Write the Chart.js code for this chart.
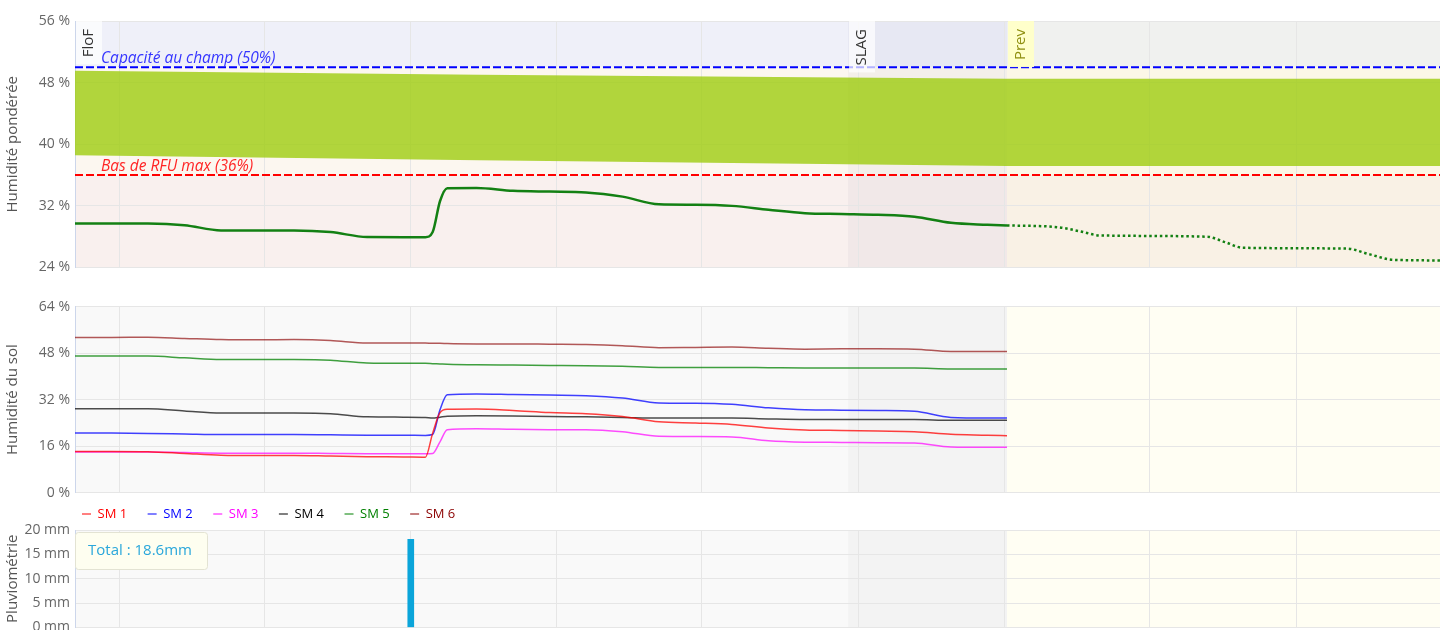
<!DOCTYPE html>
<html>
<head>
<meta charset="utf-8">
<script src="https://cdn.jsdelivr.net/npm/chart.js@4.4.1/dist/chart.umd.min.js"></script>
<style>
  html, body { margin: 0; padding: 0; background: #fff; }
  #wrap { position: relative; width: 1440px; height: 630px; overflow: hidden; }
  #wrap canvas { position: absolute; left: 0; }
</style>
</head>
<body>
<div id="wrap">
  <canvas id="hpChart" width="1440" height="280" style="top:0"></canvas>
  <canvas id="smChart" width="1440" height="260" style="top:280px"></canvas>
  <canvas id="rainChart" width="1440" height="130" style="top:500px"></canvas>
</div>
<script>
// x values are in days from the left edge of the plots
var gridDays = [0.308, 1.301, 2.299, 3.295, 4.29, 5.37, 6.37, 7.363, 8.368];
var xMax = 9.35;
var periodNames = ['FloF', 'SLAG', 'Prev'];
var periodStarts = [0, 5.295, 6.384];

var thresholds = [50, 36];
var thresholdLabels = ['Capacité au champ (50%)', 'Bas de RFU max (36%)'];

// RFU band (green area)
var bandDays = [0, 2.77, 6.384, 9.5];
var bandTop = [49.53, 49.01, 48.49, 48.49];
var bandBottom = [38.57, 37.92, 37.18, 37.18];

// weighted humidity, measured then forecast
var obsDays = [0, 0.25, 0.5, 0.75, 1, 1.25, 1.5, 1.75, 2, 2.25, 2.4, 2.45, 2.5, 2.55, 2.75,
  3, 3.25, 3.5, 3.75, 4, 4.25, 4.5, 4.75, 5, 5.25, 5.5, 5.75, 6, 6.25, 6.384];
var hpObs = [29.72, 29.72, 29.72, 29.5, 28.81, 28.81, 28.81, 28.6, 27.96, 27.94, 27.94, 28.6, 32.6, 34.3, 34.32,
  33.95, 33.85, 33.75, 33.2, 32.2, 32.15, 32.0, 31.5, 31.05, 30.95, 30.85, 30.6, 29.8, 29.55, 29.46];
var fcDays = [6.384, 6.726, 6.884, 7.021, 7.753, 7.877, 8.0, 8.712, 8.87, 9.027, 9.349, 9.5];
var hpFc = [29.46, 29.24, 28.7, 28.16, 28.0, 27.3, 26.56, 26.45, 25.7, 25.0, 24.92, 24.9];

// soil moisture probes
var smLabels = ['SM 1', 'SM 2', 'SM 3', 'SM 4', 'SM 5', 'SM 6'];
var sm1 = [14.2, 14.2, 14.1, 13.5, 12.9, 12.8, 12.8, 12.6, 12.4, 12.3, 12.2, 20.5, 27.5, 28.7, 28.8,
  28.3, 27.6, 27.2, 26.2, 24.4, 24.0, 23.5, 22.3, 21.6, 21.4, 21.2, 21.0, 20.1, 19.8, 19.6];
var sm2 = [20.5, 20.5, 20.4, 20.2, 20.0, 20.0, 20.0, 19.9, 19.8, 19.8, 19.7, 20.0, 28.5, 33.7, 34.0,
  33.8, 33.6, 33.4, 32.6, 30.9, 30.8, 30.4, 29.2, 28.5, 28.4, 28.3, 28.0, 25.9, 25.7, 25.7];
var sm3 = [14.0, 14.0, 14.0, 13.8, 13.6, 13.6, 13.6, 13.5, 13.4, 13.4, 13.4, 13.5, 17.5, 21.7, 22.0,
  21.8, 21.7, 21.7, 21.0, 19.4, 19.3, 19.2, 17.9, 17.4, 17.3, 17.2, 17.1, 15.7, 15.6, 15.6];
var sm4 = [28.9, 28.9, 28.9, 28.1, 27.4, 27.4, 27.4, 27.2, 26.1, 26.0, 25.9, 25.7, 26.0, 26.3, 26.5,
  26.4, 26.2, 26.1, 25.9, 25.7, 25.7, 25.7, 25.4, 25.2, 25.2, 25.2, 25.2, 24.9, 24.9, 24.9];
var sm5 = [47.0, 47.0, 47.0, 46.4, 45.8, 45.8, 45.8, 45.6, 44.6, 44.5, 44.5, 44.4, 44.3, 44.2, 44.0,
  43.9, 43.8, 43.7, 43.5, 43.1, 43.1, 43.1, 43.0, 42.9, 42.9, 42.9, 42.9, 42.6, 42.6, 42.6];
var sm6 = [53.4, 53.4, 53.5, 53.1, 52.7, 52.6, 52.7, 52.4, 51.5, 51.5, 51.5, 51.4, 51.4, 51.3, 51.2,
  51.2, 51.1, 51.0, 50.6, 49.9, 50.0, 50.1, 49.7, 49.4, 49.5, 49.5, 49.4, 48.6, 48.6, 48.6];

// rain
var rainDays = [2.3];
var rainMm = [18.1];
var rainTotalMm = 18.6;

var smColors = ['#ff0000', '#0000ff', '#ff00ff', '#000000', '#008000', '#8b0000'];
var smLineColors = ['rgba(255,0,0,0.75)', 'rgba(0,0,255,0.75)', 'rgba(255,0,255,0.7)',
  'rgba(0,0,0,0.7)', 'rgba(0,128,0,0.75)', 'rgba(139,0,0,0.65)'];

Chart.defaults.font.family = '"Open Sans", sans-serif';
Chart.defaults.color = '#666';

function pts(xs, ys) {
  return xs.map(function (x, i) { return { x: x, y: ys[i] }; });
}

function xScale() {
  return {
    type: 'linear', min: 0, max: xMax, offset: false,
    afterBuildTicks: function (s) {
      s.ticks = gridDays.map(function (v) { return { value: v }; });
    },
    afterFit: function (s) { s.height = 0; s.paddingLeft = 0; s.paddingRight = 0; },
    ticks: { display: false },
    grid: { color: '#e6e6e6', drawTicks: false, offset: false },
    border: { display: false }
  };
}

function yScale(min, max, step, unit, title) {
  return {
    min: min, max: max,
    ticks: {
      stepSize: step, padding: 5, color: '#666', font: { size: 14 },
      callback: function (v) { return v + unit; }
    },
    grid: { color: '#e6e6e6', drawTicks: false },
    border: { display: true, color: '#ccd6eb', width: 1 },
    title: { display: true, text: title, color: '#555', font: { size: 15 } },
    afterFit: function (s) { s.width = 75; s.paddingTop = 0; s.paddingBottom = 0; }
  };
}

// zone backgrounds and period shading behind everything
var panelBg = {
  id: 'panelBg',
  beforeDraw: function (chart, args, opts) {
    var ctx = chart.ctx, a = chart.chartArea, x = chart.scales.x, y = chart.scales.y;
    ctx.save();
    opts.zones.forEach(function (z) {
      var y1 = y.getPixelForValue(z[1]), y0 = y.getPixelForValue(z[0]);
      ctx.fillStyle = z[2];
      ctx.fillRect(a.left, y1, a.right - a.left, y0 - y1);
    });
    periodStarts.forEach(function (s, i) {
      var c = opts.periodFills[i];
      if (!c) return;
      var x0 = x.getPixelForValue(s);
      var x1 = i + 1 < periodStarts.length ? x.getPixelForValue(periodStarts[i + 1]) : a.right;
      ctx.fillStyle = c;
      ctx.fillRect(x0, a.top, x1 - x0, a.bottom - a.top);
    });
    ctx.restore();
  }
};

// threshold captions and period tags on the top panel
var hpMarks = {
  id: 'hpMarks',
  afterDatasetsDraw: function (chart) {
    var ctx = chart.ctx, a = chart.chartArea, x = chart.scales.x, y = chart.scales.y;
    var textColors = ['#3535ff', '#ff2525'];
    var tagFills = ['rgba(255,255,255,0.7)', 'rgba(255,255,255,0.7)', 'rgba(255,255,200,0.95)'];
    var tagText = ['#333', '#333', '#8f8f10'];
    ctx.save();
    ctx.font = 'italic 15.5px "Open Sans"';
    ctx.textBaseline = 'alphabetic';
    thresholds.forEach(function (t, i) {
      ctx.fillStyle = textColors[i];
      ctx.fillText(thresholdLabels[i], a.left + 26, y.getPixelForValue(t) - 4);
    });
    ctx.font = '15px "Open Sans"';
    periodNames.forEach(function (name, i) {
      var px = x.getPixelForValue(periodStarts[i]) + 1;
      var w = ctx.measureText(name).width;
      ctx.fillStyle = tagFills[i];
      ctx.fillRect(px, a.top, 26, w + 15);
      ctx.save();
      ctx.translate(px + 13, a.top + 8);
      ctx.rotate(-Math.PI / 2);
      ctx.textAlign = 'right';
      ctx.textBaseline = 'middle';
      ctx.fillStyle = tagText[i];
      ctx.fillText(name, 0, 0);
      ctx.restore();
    });
    ctx.restore();
  }
};

// put the legend under the plot, starting at the axis
var legendSpot = {
  id: 'legendSpot',
  afterLayout: function (chart, args, opts) {
    if (chart.legend) {
      chart.legend.left = opts.left;
      chart.legend.top = opts.top;
    }
  }
};

var rainTotalBox = {
  id: 'rainTotalBox',
  afterDraw: function (chart) {
    var ctx = chart.ctx, a = chart.chartArea;
    var bx = a.left + 0.5, by = a.top + 2.5, bw = 132, bh = 37;
    ctx.save();
    ctx.beginPath();
    ctx.roundRect(bx, by, bw, bh, 3);
    ctx.fillStyle = '#fefef0';
    ctx.fill();
    ctx.strokeStyle = '#e3e3d3';
    ctx.lineWidth = 1;
    ctx.stroke();
    ctx.font = '15px "Open Sans"';
    ctx.fillStyle = '#2aa7db';
    ctx.textBaseline = 'middle';
    ctx.fillText('Total : ' + rainTotalMm + 'mm', bx + 12.5, by + bh / 2);
    ctx.restore();
  }
};

var hpChart = new Chart(document.getElementById('hpChart'), {
  type: 'line',
  data: {
    datasets: [
      { data: pts(bandDays, bandBottom), borderColor: 'rgba(0,0,0,0)', borderWidth: 1, pointRadius: 0, fill: false, order: 3 },
      { data: pts(bandDays, bandTop), borderColor: 'rgba(0,0,0,0)', borderWidth: 1, pointRadius: 0, fill: '-1',
        backgroundColor: 'rgba(160,205,20,0.82)', order: 3 },
      { data: pts([0, xMax], [thresholds[0], thresholds[0]]), borderColor: '#0000ff', borderWidth: 2,
        borderDash: [8, 3], pointRadius: 0, fill: false, order: 1 },
      { data: pts([0, xMax], [thresholds[1], thresholds[1]]), borderColor: '#ff0000', borderWidth: 2,
        borderDash: [8, 3], pointRadius: 0, fill: false, order: 1 },
      { data: pts(obsDays, hpObs), borderColor: '#138013', borderWidth: 2.5, pointRadius: 0,
        cubicInterpolationMode: 'monotone', fill: false, order: 0 },
      { data: pts(fcDays, hpFc), borderColor: '#138013', borderWidth: 2.5, borderDash: [2.5, 2.8], pointRadius: 0,
        cubicInterpolationMode: 'monotone', fill: false, order: 0 }
    ]
  },
  options: {
    responsive: false, animation: false,
    layout: { padding: { top: 21, bottom: 12.5, left: 0, right: 0 } },
    scales: { x: xScale(), y: yScale(24, 56, 8, ' %', 'Humidité pondérée') },
    plugins: {
      legend: { display: false },
      tooltip: { enabled: false },
      panelBg: {
        zones: [[thresholds[0], 56, '#eff0f9'], [thresholds[1], thresholds[0], '#fcf7f0'], [24, thresholds[1], '#f9f0ee']],
        periodFills: [null, 'rgba(40,40,90,0.035)', 'rgba(255,250,120,0.07)']
      }
    }
  },
  plugins: [panelBg, hpMarks]
});

var smSeries = [sm1, sm2, sm3, sm4, sm5, sm6];
var smChart = new Chart(document.getElementById('smChart'), {
  type: 'line',
  data: {
    datasets: smSeries.map(function (vals, i) {
      return {
        label: smLabels[i], data: pts(obsDays, vals), borderColor: smLineColors[i],
        backgroundColor: smLineColors[i], borderWidth: 1.5, pointRadius: 0,
        cubicInterpolationMode: 'monotone', fill: false
      };
    })
  },
  options: {
    responsive: false, animation: false,
    layout: { padding: { top: 26.7, bottom: 3.8, left: 0, right: 0 } },
    scales: { x: xScale(), y: yScale(0, 64, 16, ' %', 'Humidité du sol') },
    plugins: {
      legend: {
        position: 'bottom', align: 'start',
        labels: {
          font: { size: 13 }, padding: 20.5, usePointStyle: true, pointStyle: 'line',
          pointStyleWidth: 9, boxHeight: 9,
          generateLabels: function (chart) {
            var items = Chart.defaults.plugins.legend.labels.generateLabels(chart);
            items.forEach(function (it, i) {
              it.fontColor = smColors[i];
              it.strokeStyle = smColors[i];
              it.lineWidth = 1;
            });
            return items;
          }
        }
      },
      tooltip: { enabled: false },
      panelBg: {
        zones: [[0, 64, '#f9f9f9']],
        periodFills: [null, 'rgba(0,0,0,0.025)', '#fffef3']
      },
      legendSpot: { left: 61.5, top: 207 }
    }
  },
  plugins: [panelBg, legendSpot]
});

var rainChart = new Chart(document.getElementById('rainChart'), {
  type: 'bar',
  data: {
    datasets: [{ data: pts(rainDays, rainMm), backgroundColor: '#0ba5da', barThickness: 6 }]
  },
  options: {
    responsive: false, animation: false,
    layout: { padding: { top: 30, bottom: 2.5, left: 0, right: 0 } },
    scales: { x: xScale(), y: yScale(0, 20, 5, ' mm', 'Pluviométrie') },
    plugins: {
      legend: { display: false },
      tooltip: { enabled: false },
      panelBg: {
        zones: [[0, 20, '#f9f9f9']],
        periodFills: [null, 'rgba(0,0,0,0.025)', '#fffef3']
      }
    }
  },
  plugins: [panelBg, rainTotalBox]
});
</script>
</body>
</html>
